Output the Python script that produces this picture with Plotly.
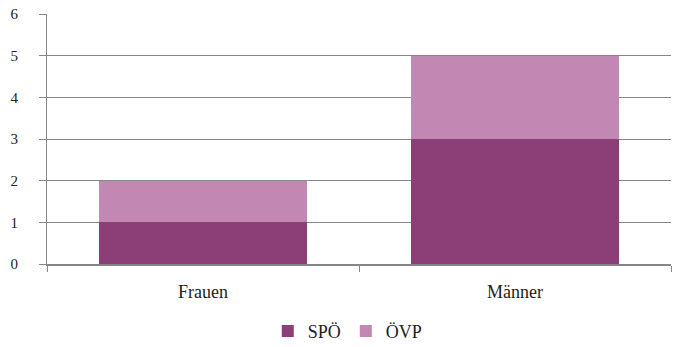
import plotly.graph_objects as go

categories = ["Frauen", "Männer"]
spoe = [1, 3]
oevp = [1, 2]
y_ticks = [0, 1, 2, 3, 4, 5, 6]

dark = "#8C3F76"
light = "#C387B4"
axis_grey = "#868686"
font_family = "Liberation Serif, DejaVu Serif, serif"

fig = go.Figure()
fig.add_trace(go.Bar(name="SPÖ", x=categories, y=spoe, marker_color=dark,
                     marker_line_width=0))
fig.add_trace(go.Bar(name="ÖVP", x=categories, y=oevp, marker_color=light,
                     marker_line_width=0))

fig.update_layout(
    barmode="stack",
    bargap=1/3,
    width=681, height=347,
    margin=dict(l=47, r=10, t=14, b=83),
    paper_bgcolor="white",
    plot_bgcolor="white",
    font=dict(family=font_family, size=18, color="#222222"),
    showlegend=True,
    legend=dict(orientation="h", x=0.482, xanchor="center",
                yref="container", y=0.045, yanchor="middle",
                font=dict(family=font_family, size=18, color="#222222"),
                itemwidth=30, tracegroupgap=0,
                itemsizing="constant", traceorder="normal"),
    xaxis=dict(
        type="category", automargin=False,
        showline=True, linecolor=axis_grey, linewidth=2,
        ticks="outside", tickson="boundaries", ticklen=6, tickcolor=axis_grey,
        tickwidth=1, showgrid=False,
        ticklabelstandoff=10,
        tickfont=dict(family=font_family, size=18, color="#222222"),
    ),
    yaxis=dict(
        range=[0, 6], tickvals=y_ticks, automargin=False,
        showline=True, linecolor=axis_grey, linewidth=1,
        ticks="outside", ticklen=7, tickcolor=axis_grey, tickwidth=1,
        showgrid=True, gridcolor=axis_grey, gridwidth=1,
        zeroline=False,
        ticklabelstandoff=18,
        tickfont=dict(family=font_family, size=15, color="#222222"),
    ),
)

fig.write_html("out.html")
